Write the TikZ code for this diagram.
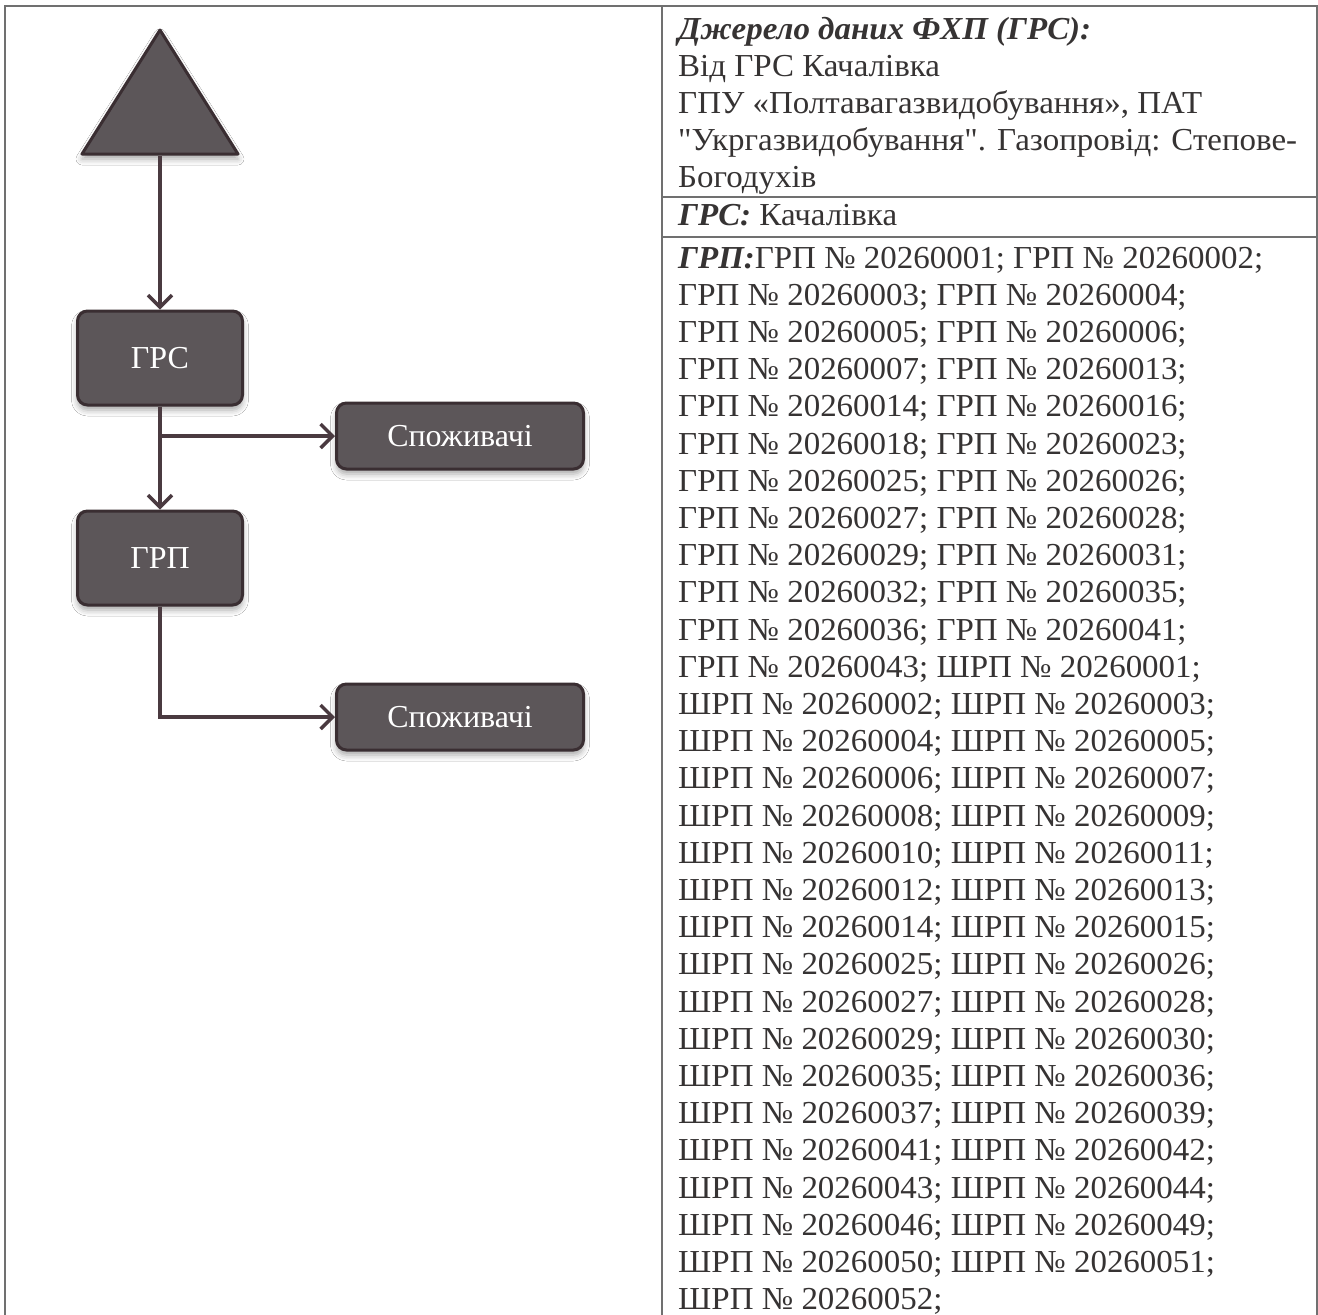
\documentclass[tikz,border=0pt]{standalone}
\usepackage{fontspec}
\setmainfont{Liberation Serif}
\newfontfamily\tabfont[FakeStretch=1.03]{Liberation Serif}
\usetikzlibrary{arrows.meta,shadows.blur}
\definecolor{boxfill}{HTML}{5C5659}
\definecolor{boxedge}{HTML}{3A2E32}
\definecolor{linkcol}{HTML}{4A3A40}
\definecolor{rulecol}{HTML}{707070}
\definecolor{txt}{HTML}{363333}
\begin{document}
\begin{tikzpicture}[x=1pt,y=-1pt,
  flowbox/.style={draw=boxedge, fill=boxfill, line width=3pt, rounded corners=10pt,
    text=white, font=\fontsize{32}{36}\selectfont, inner sep=0pt,
    blur shadow={shadow xshift=0pt, shadow yshift=-5pt, shadow blur radius=6pt, shadow opacity=35}},
  srcbox/.style={flowbox, minimum width=165pt, minimum height=94pt},
  usebox/.style={flowbox, minimum width=247pt, minimum height=66pt},
  link/.style={draw=linkcol, line width=3.5pt, -{Straight Barb[length=12pt,width=24pt]}},
  rule/.style={draw=rulecol, line width=1.6pt},
  cell/.style={anchor=base west, inner sep=0pt, text=txt, font=\tabfont\fontsize{32}{37}\selectfont},
  lab/.style={font=\bfseries\itshape}
]
\useasboundingbox[fill=white] (0,0) rectangle (1318,1315);

% table
\draw[rule] (5,1315) -- (5,6) -- (1317,6) -- (1317,1315);
\draw[rule] (662,6) -- (662,1315);
\draw[rule] (662,197) -- (1317,197);
\draw[rule] (662,237) -- (1317,237);

\node[cell] (h1) at (678,39) {\textbf{\textit{Джерело даних ФХП (ГРС):}}};
\node[cell] (h2) at (678,76) {Від ГРС Качалівка};
\node[cell] (h3) at (678,113) {ГПУ «Полтавагазвидобування», ПАТ};
\node[cell] (h4) at (678,150) {"Укргазвидобування". Газопровід: Степове-};
\node[cell] (h5) at (678,187) {Богодухів};
\node[cell] (grsrow) at (678,225) {\textbf{\textit{ГРС:}} Качалівка};
\node[cell] (r1) at (678,268) {\textbf{\textit{ГРП:}}ГРП № 20260001; ГРП № 20260002;};
\foreach \t [count=\i from 2] in {
  {ГРП № 20260003; ГРП № 20260004;},
  {ГРП № 20260005; ГРП № 20260006;},
  {ГРП № 20260007; ГРП № 20260013;},
  {ГРП № 20260014; ГРП № 20260016;},
  {ГРП № 20260018; ГРП № 20260023;},
  {ГРП № 20260025; ГРП № 20260026;},
  {ГРП № 20260027; ГРП № 20260028;},
  {ГРП № 20260029; ГРП № 20260031;},
  {ГРП № 20260032; ГРП № 20260035;},
  {ГРП № 20260036; ГРП № 20260041;},
  {ГРП № 20260043; ШРП № 20260001;},
  {ШРП № 20260002; ШРП № 20260003;},
  {ШРП № 20260004; ШРП № 20260005;},
  {ШРП № 20260006; ШРП № 20260007;},
  {ШРП № 20260008; ШРП № 20260009;},
  {ШРП № 20260010; ШРП № 20260011;},
  {ШРП № 20260012; ШРП № 20260013;},
  {ШРП № 20260014; ШРП № 20260015;},
  {ШРП № 20260025; ШРП № 20260026;},
  {ШРП № 20260027; ШРП № 20260028;},
  {ШРП № 20260029; ШРП № 20260030;},
  {ШРП № 20260035; ШРП № 20260036;},
  {ШРП № 20260037; ШРП № 20260039;},
  {ШРП № 20260041; ШРП № 20260042;},
  {ШРП № 20260043; ШРП № 20260044;},
  {ШРП № 20260046; ШРП № 20260049;},
  {ШРП № 20260050; ШРП № 20260051;},
  {ШРП № 20260052;}}
  \node[cell] (r\i) at (678,{268+37.2*(\i-1)}) {\t};

% diagram
\draw[draw=boxedge, fill=boxfill, line width=3pt, line join=round,
  blur shadow={shadow xshift=0pt, shadow yshift=-5pt, shadow blur radius=6pt, shadow opacity=35}]
  (160,30) -- (238,154) -- (82,154) -- cycle;
\coordinate (src) at (160,156);
\node[srcbox] (grs) at (160,358) {ГРС};
\node[srcbox] (grp) at (160,558) {ГРП};
\node[usebox] (c1) at (460,436) {Споживачі};
\node[usebox] (c2) at (460,717) {Споживачі};
\coordinate (j1) at (160,436);

\draw[link] (src) -- (grs.north);
\draw[link] (grs.south) -- (grp.north);
\draw[link, shorten <=1.75pt] (j1) -- (c1.west);
\draw[link] (grp.south) |- (c2.west);
\end{tikzpicture}
\end{document}
